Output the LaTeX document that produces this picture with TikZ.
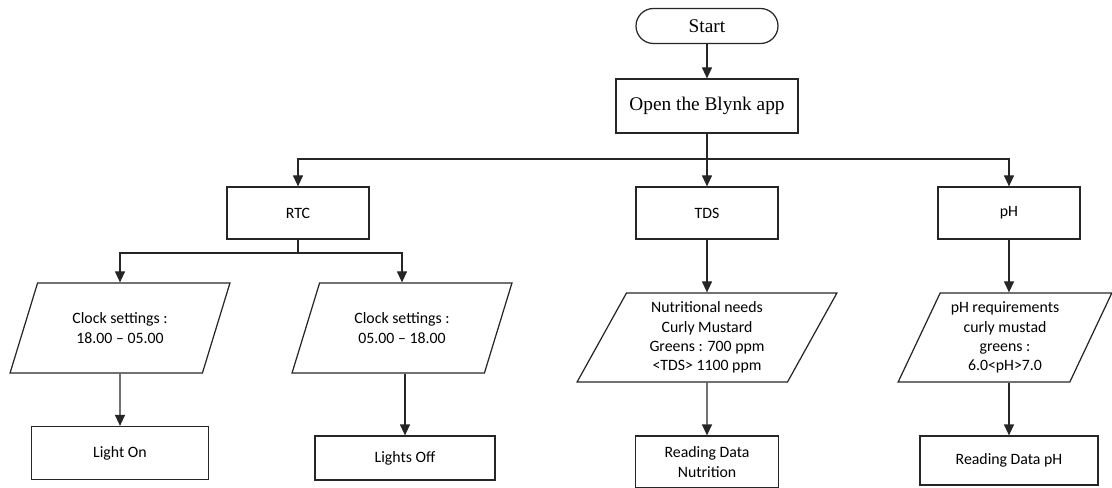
\documentclass[tikz,border=0pt]{standalone}
\usepackage{fontspec}
\setmainfont{Carlito}
\newfontfamily\serifnode{Liberation Serif}
\usetikzlibrary{arrows.meta,shapes.geometric}

\tikzset{
    flowline/.style={draw=black!85, line width=0.7pt},
    flowarrow/.style={flowline, -{Triangle[width=2mm,length=2.2mm]}},
    procbox/.style={draw=black!85, line width=0.7pt, rectangle, align=center,
        font=\fontsize{9}{10.9}\selectfont, inner sep=1pt},
    iobox/.style={draw=black!85, line width=0.7pt, trapezium, trapezium left angle=64,
        trapezium right angle=116, trapezium stretches=true, align=center,
        font=\fontsize{9}{10.9}\selectfont, inner sep=1pt},
    termbox/.style={draw=black!85, line width=0.7pt, rounded corners=0.35cm,
        font=\serifnode\fontsize{11}{13}\selectfont, inner sep=1pt}
}

\begin{document}
\begin{tikzpicture}
            \useasboundingbox (0,0) rectangle (22.24,-9.76);

            % top of the chart
            \node[termbox, minimum width=2.84cm, minimum height=0.7cm] (start) at (14.14,-0.52) {Start};
            \node[procbox, font=\serifnode\fontsize{11}{13}\selectfont, minimum width=3.64cm, minimum height=1.08cm] (blynk) at (14.14,-2.12) {Open the Blynk app};

            % the three menus
            \node[procbox, minimum width=2.84cm, minimum height=1.04cm] (rtc) at (5.96,-4.26) {RTC};
            \node[procbox, minimum width=2.84cm, minimum height=1.04cm] (tds) at (14.14,-4.26) {TDS};
            \node[procbox, minimum width=2.84cm, minimum height=1.04cm] (ph) at (20.18,-4.26) {pH};

            \node[iobox, minimum width=4.42cm, minimum height=1.8cm] (clockon) at (2.4,-6.56) {Clock settings :\\18.00 -- 05.00};
            \node[iobox, minimum width=4.42cm, minimum height=1.8cm] (clockoff) at (8.04,-6.56) {Clock settings :\\05.00 -- 18.00};
            \node[iobox, minimum width=5.2cm, minimum height=1.78cm] (nutneed) at (14.14,-6.75) {Nutritional needs\\Curly Mustard\\Greens : 700 ppm\\<TDS> 1100 ppm};
            \node[iobox, minimum width=4.28cm, minimum height=1.78cm] (phneed) at (20.1,-6.75) {pH requirements\\curly mustad\\greens :\\6.0<pH>7.0};

            \node[procbox, minimum width=3.54cm, minimum height=1.06cm] (lighton) at (2.4,-9.06) {Light On};
            \node[procbox, minimum width=3.6cm, minimum height=0.88cm] (lightoff) at (8.1,-9.16) {Lights Off};
            \node[procbox, minimum width=2.86cm, minimum height=1.04cm] (readnut) at (14.14,-9.24) {Reading Data\\Nutrition};
            \node[procbox, minimum width=3.56cm, minimum height=0.98cm] (readph) at (20.18,-9.21) {Reading Data pH};

            \coordinate (split) at (14.14,-3.18);
            \coordinate (rtcsplit) at (5.96,-5.06);

            \draw[flowarrow] (start) -- (blynk);
            \draw[flowline] (blynk) -- (split);
            \draw[flowarrow] (split) -| (rtc);
            \draw[flowarrow] (split) -- (tds);
            \draw[flowarrow] (split) -| (ph);

            \draw[flowline] (rtc) -- (rtcsplit);
            \draw[flowarrow] (rtcsplit) -| (clockon.north);
            \draw[flowarrow] (rtcsplit) -| (clockoff.north);

            \draw[flowarrow] (tds) -- (tds |- nutneed.north);
            \draw[flowarrow] (ph) -- (ph |- phneed.north);

            \draw[flowarrow] (clockon.south) -- (lighton);
            \draw[flowarrow] (clockoff.south -| lightoff) -- (lightoff);
            \draw[flowarrow] (nutneed.south) -- (readnut);
            \draw[flowarrow] (ph |- phneed.south) -- (readph);
        \end{tikzpicture}
\end{document}
